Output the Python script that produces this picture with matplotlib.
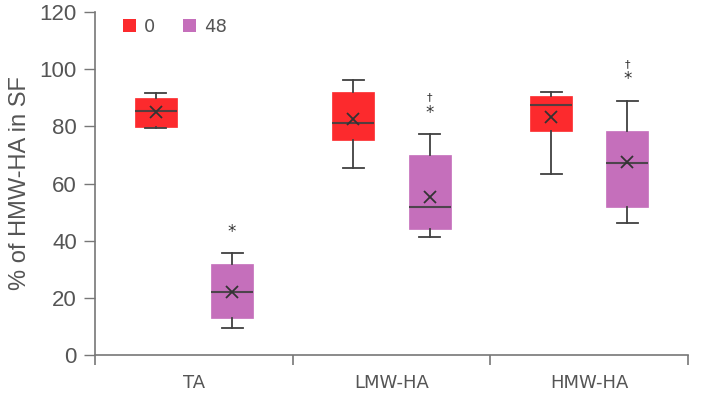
import matplotlib
matplotlib.use("Agg")
import matplotlib.pyplot as plt
from matplotlib.patches import Patch

# groups and time points
categories = ['TA', 'LMW-HA', 'HMW-HA']
series = ['0', '48']
colors = {'0': '#fc2a2d', '48': '#c56fbb'}

# box stats (% of HMW-HA in SF)
stats = {
    '0': {
        'whislo': [79.4, 65.4, 63.3],
        'q1':     [79.8, 75.2, 78.4],
        'med':    [85.2, 81.2, 87.5],
        'q3':     [90.0, 92.0, 90.6],
        'whishi': [91.7, 96.2, 92.0],
        'mean':   [85.0, 82.6, 83.3],
    },
    '48': {
        'whislo': [9.4, 41.3, 46.2],
        'q1':     [12.9, 44.1, 51.8],
        'med':    [22.0, 51.8, 67.2],
        'q3':     [31.8, 70.0, 78.4],
        'whishi': [35.7, 77.3, 88.9],
        'mean':   [22.0, 55.3, 67.5],
    },
}
# significance marks over the 48 boxes
marks_star = [True, True, True]
marks_dagger = [False, True, True]

fig, ax = plt.subplots(figsize=(7.05, 3.94), dpi=100)
fig.subplots_adjust(left=0.1348, right=0.976, bottom=0.099, top=0.9695)

offset = 0.193
width = 0.213
dark = '#404040'

for k, s in enumerate(series):
    st = stats[s]
    bstats = []
    for i in range(len(categories)):
        bstats.append({
            'whislo': st['whislo'][i], 'q1': st['q1'][i], 'med': st['med'][i],
            'q3': st['q3'][i], 'whishi': st['whishi'][i], 'mean': st['mean'][i],
            'fliers': [],
        })
    pos = [i + (offset if k else -offset) for i in range(len(categories))]
    ax.bxp(bstats, positions=pos, widths=width, patch_artist=True,
           showmeans=True, capwidths=width * 0.5,
           boxprops=dict(facecolor=colors[s], edgecolor=colors[s], linewidth=0.5),
           medianprops=dict(color=dark, linewidth=1.5, alpha=0.9),
           whiskerprops=dict(color=dark, linewidth=1.3),
           capprops=dict(color=dark, linewidth=1.3),
           meanprops=dict(marker='x', markeredgecolor='#333333', markersize=8,
                          markeredgewidth=1.3))

# significance symbols
for i in range(len(categories)):
    x = i + offset
    y = stats['48']['whishi'][i] + 7.5
    if marks_star[i]:
        ax.text(x, y, '*', ha='center', va='center', fontsize=12, color='#333333')
    if marks_dagger[i]:
        ax.text(x, y + 5.5, '\u2020', ha='center', va='center', fontsize=8,
                color='#333333')

ax.set_ylim(0, 120)
ax.set_xlim(-0.5, len(categories) - 0.5)
ax.set_yticks(range(0, 121, 20))
ax.tick_params(axis='y', labelsize=16, labelcolor='#555555', color='#777777',
               length=8, width=1, pad=5)
for lab in ax.get_yticklabels():
    lab.set_fontfamily('Liberation Sans')

ax.set_xticks([i - 0.5 for i in range(len(categories) + 1)])
ax.set_xticklabels([])
ax.tick_params(axis='x', which='major', length=7, color='#777777', width=1.2)
ax.set_xticks(range(len(categories)), minor=True)
ax.set_xticklabels(categories, minor=True, fontsize=13, color='#555555')
ax.tick_params(axis='x', which='minor', length=0, pad=14)

for side in ['top', 'right']:
    ax.spines[side].set_visible(False)
for side in ['left', 'bottom']:
    ax.spines[side].set_color('#777777')
    ax.spines[side].set_linewidth(1.2)

ax.set_ylabel('% of HMW-HA in SF', fontsize=17, color='#555555',
              family='Liberation Sans', labelpad=6)

handles = [Patch(facecolor=colors[s], edgecolor='none', label=s) for s in series]
ax.legend(handles=handles, loc='upper left', ncol=2, frameon=False,
          bbox_to_anchor=(0.019, 1.03), fontsize=13, handlelength=0.72,
          handleheight=0.72, handletextpad=0.45, columnspacing=1.55,
          labelcolor='#555555')

fig.savefig('out.png', dpi=100)
